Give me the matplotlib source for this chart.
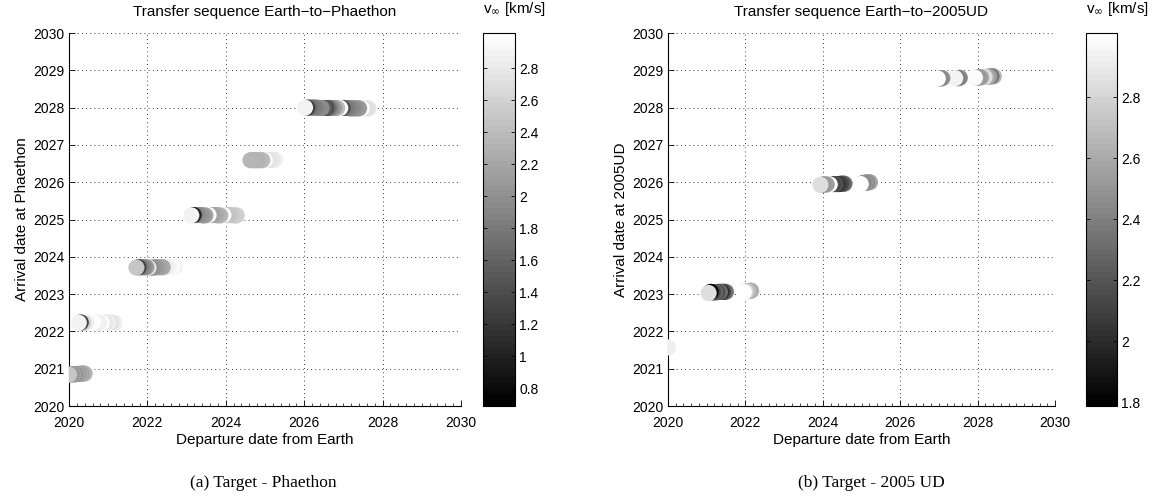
import numpy as np
import matplotlib
matplotlib.use("Agg")
import matplotlib.pyplot as plt
from matplotlib.ticker import MultipleLocator, FuncFormatter

# ---------------- data: Earth -> Phaethon ----------------
dep_phaethon = [
    2020.00, 2020.04, 2020.08, 2020.12, 2020.16, 2020.20, 2020.24, 2020.28, 2020.32, 2020.36, 2020.40,
    2020.25, 2020.30, 2020.36, 2020.44, 2020.52, 2020.60, 2020.68, 2020.76, 2020.84, 2020.92, 2021.00, 2021.08, 2021.16,
    2021.72, 2021.77, 2021.82, 2021.87, 2021.92, 2021.97, 2022.03, 2022.09, 2022.15, 2022.21, 2022.27, 2022.33, 2022.39,
    2022.47, 2022.55, 2022.63, 2022.70,
    2023.12, 2023.18, 2023.24, 2023.30, 2023.36, 2023.42, 2023.48, 2023.56, 2023.62, 2023.68, 2023.74, 2023.80, 2023.86,
    2023.94, 2024.00, 2024.06, 2024.12, 2024.18, 2024.24, 2024.28,
    2024.63, 2024.68, 2024.73, 2024.78, 2024.83, 2024.88, 2024.93, 2025.00, 2025.06, 2025.12, 2025.18, 2025.26,
    2026.02, 2026.08, 2026.14, 2026.20, 2026.26, 2026.32, 2026.38, 2026.44, 2026.50, 2026.56, 2026.62, 2026.68, 2026.76,
    2026.84, 2026.92, 2026.98, 2027.04, 2027.10, 2027.16, 2027.22, 2027.28, 2027.34, 2027.40, 2027.47, 2027.54, 2027.60,
    2027.64,
]
arr_phaethon = [
    2020.84, 2020.84, 2020.85, 2020.85, 2020.85, 2020.86, 2020.86, 2020.86, 2020.87, 2020.87, 2020.87,
    2022.23, 2022.24, 2022.23, 2022.23, 2022.24, 2022.24, 2022.24, 2022.23, 2022.23, 2022.24, 2022.24, 2022.24, 2022.23,
    2023.71, 2023.72, 2023.72, 2023.72, 2023.72, 2023.72, 2023.71, 2023.71, 2023.71, 2023.72, 2023.72, 2023.72, 2023.72,
    2023.73, 2023.73, 2023.73, 2023.73,
    2025.11, 2025.12, 2025.12, 2025.12, 2025.12, 2025.11, 2025.11, 2025.12, 2025.12, 2025.12, 2025.12, 2025.11, 2025.11,
    2025.12, 2025.12, 2025.12, 2025.12, 2025.11, 2025.11, 2025.11,
    2026.59, 2026.59, 2026.59, 2026.59, 2026.59, 2026.59, 2026.59, 2026.59, 2026.59, 2026.60, 2026.60, 2026.60,
    2028.00, 2028.00, 2028.00, 2028.00, 2028.00, 2028.00, 2027.99, 2027.99, 2027.99, 2027.99, 2027.99, 2027.99, 2027.99,
    2027.99, 2027.99, 2027.99, 2027.99, 2027.99, 2027.98, 2027.98, 2027.98, 2027.98, 2027.98, 2027.98, 2027.98, 2027.98,
    2027.98,
]
vinf_phaethon = [
    2.50, 2.05, 2.10, 2.15, 2.00, 2.20, 2.10, 2.25, 2.15, 2.30, 2.35,
    2.90, 1.30, 2.60, 2.85, 2.95, 3.00, 2.90, 2.85, 2.95, 2.80, 2.85, 2.75, 2.85,
    2.50, 1.30, 1.80, 1.90, 2.00, 2.10, 2.70, 2.00, 2.05, 2.10, 2.15, 2.20, 2.25,
    2.85, 2.90, 2.95, 2.90,
    2.90, 1.00, 1.90, 2.00, 2.05, 2.10, 2.20, 2.95, 2.15, 2.20, 2.25, 2.30, 2.35,
    2.95, 2.45, 2.50, 2.50, 2.55, 2.55, 2.60,
    2.35, 2.30, 2.35, 2.30, 2.35, 2.40, 2.40, 2.95, 2.75, 2.80, 2.80, 2.85,
    2.90, 1.30, 1.70, 1.80, 1.85, 1.90, 1.95, 2.00, 1.60, 1.40, 1.70, 1.90, 2.10,
    2.40, 2.95, 1.40, 1.80, 1.85, 1.90, 1.95, 2.00, 2.05, 2.10, 2.95, 2.70, 2.75,
    2.80,
]

# ---------------- data: Earth -> 2005UD ----------------
dep_2005ud = [
    2020.00,
    2021.05, 2021.10, 2021.14, 2021.18, 2021.22, 2021.26, 2021.30, 2021.34, 2021.38, 2021.42, 2021.46, 2021.50,
    2021.96, 2022.00, 2022.04, 2022.08, 2022.12, 2022.15,
    2023.94, 2023.98, 2024.02, 2024.06, 2024.10, 2024.18, 2024.27, 2024.32, 2024.37, 2024.42, 2024.47, 2024.52, 2024.56,
    2024.98, 2025.02, 2025.06, 2025.10, 2025.14, 2025.18, 2025.22,
    2026.97, 2027.01, 2027.05, 2027.09, 2027.42, 2027.46, 2027.50, 2027.54, 2027.93, 2027.97, 2028.01, 2028.05, 2028.09,
    2028.18, 2028.24, 2028.30, 2028.36, 2028.42,
]
arr_2005ud = [
    2021.57,
    2023.03, 2023.06, 2023.05, 2023.05, 2023.05, 2023.05, 2023.06, 2023.06, 2023.06, 2023.06, 2023.06, 2023.06,
    2023.05, 2023.07, 2023.08, 2023.08, 2023.09, 2023.09,
    2025.93, 2025.93, 2025.94, 2025.94, 2025.94, 2025.94, 2025.95, 2025.95, 2025.95, 2025.95, 2025.96, 2025.96, 2025.96,
    2025.95, 2025.97, 2025.98, 2025.99, 2025.99, 2026.00, 2026.00,
    2028.78, 2028.78, 2028.78, 2028.79, 2028.79, 2028.79, 2028.79, 2028.80, 2028.80, 2028.80, 2028.81, 2028.81, 2028.81,
    2028.82, 2028.83, 2028.83, 2028.84, 2028.84,
]
vinf_2005ud = [
    2.93,
    2.85, 1.82, 2.10, 2.20, 2.30, 2.15, 2.25, 2.35, 2.00, 2.15, 2.30, 2.40,
    3.00, 2.80, 2.70, 2.65, 2.60, 2.65,
    2.85, 2.50, 2.52, 2.55, 2.55, 3.00, 2.15, 2.20, 2.05, 2.10, 2.15, 2.25, 2.35,
    3.00, 2.45, 2.45, 2.50, 2.45, 2.55, 2.60,
    3.00, 2.45, 2.45, 2.50, 2.95, 2.40, 2.40, 2.45, 2.98, 2.55, 2.50, 2.55, 2.60,
    2.85, 2.60, 2.55, 2.35, 2.65,
]

titles = ["Transfer sequence Earth\u2212to\u2212Phaethon", "Transfer sequence Earth\u2212to\u22122005UD"]
ylabels = ["Arrival date at Phaethon", "Arrival date at 2005UD"]
xlabel = "Departure date from Earth"
captions = ["(a) Target - Phaethon", "(b) Target - 2005 UD"]
cb_ticks = [[0.8, 1.0, 1.2, 1.4, 1.6, 1.8, 2.0, 2.2, 2.4, 2.6, 2.8],
            [1.8, 2.0, 2.2, 2.4, 2.6, 2.8]]
cb_limits = [(0.69, 3.02), (1.787, 3.01)]
year_ticks = [2020, 2022, 2024, 2026, 2028, 2030]
arrival_ticks = [2020, 2021, 2022, 2023, 2024, 2025, 2026, 2027, 2028, 2029, 2030]

plt.rcParams['font.family'] = ['Liberation Sans', 'DejaVu Sans']
W, H = 1156, 498
fig = plt.figure(figsize=(W / 100, H / 100), dpi=100)

ax_px = [(69, 33, 461, 406), (668, 33, 1055, 406)]
cb_px = [(483, 515), (1086, 1117)]
caption_x = [263, 871]

cmap = plt.get_cmap('gray', 64)
datasets = [(dep_phaethon, arr_phaethon, vinf_phaethon), (dep_2005ud, arr_2005ud, vinf_2005ud)]
fmt = FuncFormatter(lambda v, p: "%g" % round(v, 2))

for i in range(2):
    x0, y0, x1, y1 = ax_px[i]
    ax = fig.add_axes([x0 / W, 1 - y1 / H, (x1 - x0) / W, (y1 - y0) / H])
    d, a, v = datasets[i]
    vmin, vmax = cb_limits[i]
    sc = ax.scatter(np.array(d)[::-1], np.array(a)[::-1], c=np.array(v)[::-1], cmap=cmap,
                    vmin=vmin, vmax=vmax, s=135, linewidths=0, zorder=3)
    ax.set_xlim(2020, 2030)
    ax.set_ylim(2020, 2030)
    ax.set_xticks(year_ticks)
    ax.set_yticks(arrival_ticks)
    ax.xaxis.set_minor_locator(MultipleLocator(0.2))
    ax.grid(True, which='major', color='black', linestyle=(0, (1, 4)), linewidth=0.6)
    ax.set_axisbelow(True)
    for s in ['top', 'right']:
        ax.spines[s].set_visible(False)
    for s in ['left', 'bottom']:
        ax.spines[s].set_linewidth(0.8)
    ax.tick_params(which='major', direction='in', length=4, width=0.6, labelsize=10,
                   top=False, right=False)
    ax.tick_params(axis='x', which='major', pad=7)
    ax.tick_params(axis='y', which='major', pad=3)
    ax.tick_params(which='minor', direction='in', length=2, width=0.5, top=False, right=False)
    ax.set_title(titles[i], fontsize=11, pad=12)
    ax.set_xlabel(xlabel, fontsize=11, labelpad=2)
    ax.set_ylabel(ylabels[i], fontsize=11, labelpad=3)

    cx0, cx1 = cb_px[i]
    cax = fig.add_axes([cx0 / W, 1 - y1 / H, (cx1 - cx0) / W, (y1 - y0) / H])
    cb = fig.colorbar(sc, cax=cax)
    cb.set_ticks(cb_ticks[i])
    cb.ax.yaxis.set_major_formatter(fmt)
    cb.ax.tick_params(direction='in', left=True, right=True, length=3, width=0.6,
                      labelsize=10, pad=3)
    cb.outline.set_linewidth(0.8)
    cax.text(0.0, 1.04, r'v$_\infty$ [km/s]', transform=cax.transAxes, ha='left', va='bottom',
             fontsize=11)

    fig.text(caption_x[i] / W, 1 - 483 / H, captions[i], ha='center', va='center',
             fontsize=12.5, family='Liberation Serif')

fig.savefig('out.png', dpi=100)
